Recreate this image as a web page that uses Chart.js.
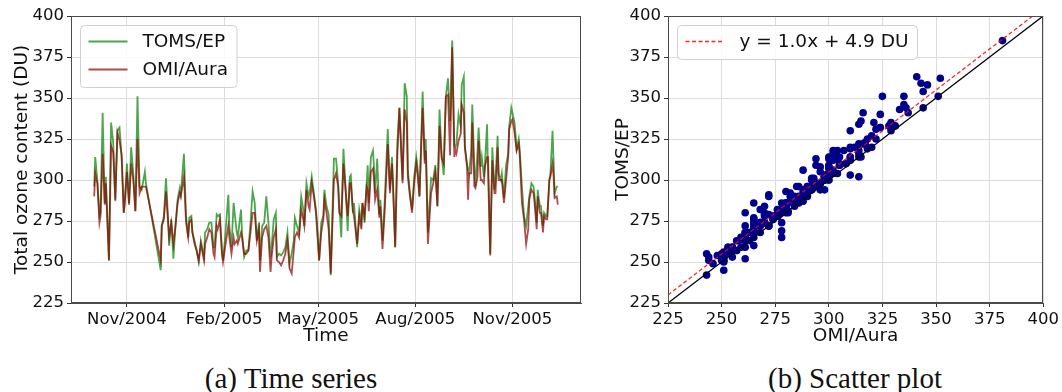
<!DOCTYPE html>
<html>
<head>
<meta charset="utf-8">
<script src="https://cdn.jsdelivr.net/npm/chart.js@4.4.1/dist/chart.umd.min.js"></script>
<style>
  html, body { margin: 0; padding: 0; background: #fff; width: 1062px; height: 392px; overflow: hidden; }
  #tsWrap { position: absolute; left: 0; top: 0; }
  #scWrap { position: absolute; left: 590px; top: 0; }
  .cap { position: absolute; top: 362px; line-height: 32px; font-family: "Liberation Serif", "Times New Roman", serif;
         font-size: 29px; color: #111; transform: translateX(-50%); white-space: nowrap; }
</style>
</head>
<body>
<div id="tsWrap"><canvas id="ts" width="600" height="351"></canvas></div>
<div id="scWrap"><canvas id="sc" width="472" height="351"></canvas></div>
<div class="cap" style="left:291px">(a) Time series</div>
<div class="cap" style="left:855px">(b) Scatter plot</div>
<script>
// Daily total ozone column over the station, days counted from 2004-10-01
const originDate = '2004-10-01';
const dayOffsets = [
  0, 1, 3, 5, 6, 8, 10, 11, 14, 16, 18, 20, 22, 24, 26, 28, 29, 31, 33, 35, 37, 39, 41, 43, 45, 48, 49,
  63, 64, 66, 68, 70, 71, 73, 75, 77, 79, 81, 82, 85, 87, 89, 90, 92, 93, 95, 97, 99, 101, 104, 105, 107, 109,
  111, 113, 114, 116, 117, 119, 121, 122, 124, 127, 128, 130, 132, 133, 135, 136, 139, 140, 142, 144, 146, 148,
  150, 152, 154, 156, 157, 159, 161, 163, 165, 167, 168, 170, 172, 173, 175, 177, 179, 181, 183, 185, 187, 189,
  190, 192, 194, 196, 198, 199, 201, 203, 204, 206, 208, 210, 211, 213, 215, 217, 218, 220,
  222, 224, 227, 229, 231, 232, 234, 236, 238, 240, 242, 243, 245, 246, 249, 251, 253, 254, 256, 258, 259, 260,
  262, 264, 265, 266, 268, 270, 271, 273, 275, 278, 280, 282, 283, 285, 287, 289, 292, 294, 296, 297, 299, 301,
  303, 305, 306, 308, 311, 313, 314, 316, 319, 321, 323, 325, 327, 329, 331,
  333, 335, 337, 339, 341, 342, 343, 345, 347, 348, 350, 351, 353, 354, 355, 357, 358, 360, 361, 363, 364, 366,
  367, 369, 370, 372, 373, 375, 377, 379, 380, 382, 383, 385, 386, 388, 390, 392, 393, 395, 396, 398, 400, 402,
  403, 405, 407, 409, 411, 412, 414, 416, 417, 419, 420, 422, 423, 425, 426, 428, 429, 431, 432, 434, 435, 436,
  438, 439
];
const tomsEP = [
  296, 314, 300, 278, 280, 341, 286, 302, 251, 335, 323, 287, 330, 332, 314, 280, 288, 310, 286, 320, 304, 281, 351, 296, 294, 305, 298,
  245, 272, 278, 301, 276, 260, 276, 252, 272, 288, 295, 291, 316, 278, 265, 277, 278, 268, 263, 257, 250, 263, 253, 268, 270, 274,
  274, 259, 259, 279, 278, 279, 257, 251, 265, 291, 272, 259, 286, 280, 268, 265, 282, 268, 253, 257, 257, 274,
  293, 286, 263, 274, 251, 272, 274, 290, 274, 253, 259, 276, 280, 253, 255, 254, 256, 259, 268, 249, 255, 263,
  277, 272, 268, 290, 282, 272, 298, 290, 292, 302, 292, 282, 274, 251, 274, 278, 294, 284,
  279, 242, 313, 313, 298, 286, 265, 319, 296, 269, 302, 303, 280, 286, 259, 282, 274, 286, 274, 298, 309, 286,
  314, 318, 307, 292, 313, 279, 288, 263, 286, 331, 294, 314, 294, 259, 322, 344, 300, 359, 351, 306, 292, 282,
  302, 314, 309, 290, 354, 312, 325, 268, 301, 300, 309, 284, 343, 314, 303,
  351, 362, 336, 385, 321, 320, 322, 340, 333, 358, 363, 320, 310, 306, 304, 318, 346, 308, 296, 318, 332, 308,
  314, 302, 310, 334, 302, 255, 320, 294, 300, 327, 304, 300, 304, 289, 309, 316, 333, 344, 341, 335, 319, 325,
  318, 296, 278, 272, 284, 290, 298, 296, 290, 274, 294, 284, 284, 272, 280, 278, 278, 300, 304, 330, 312, 292,
  296, 296
];
const omiAura = [
  290, 304, 298, 274, 278, 316, 285, 298, 251, 321, 317, 288, 329, 324, 315, 280, 286, 305, 285, 310, 300, 281, 325, 292, 296, 296, 296,
  251, 272, 276, 293, 274, 265, 274, 261, 272, 286, 292, 290, 302, 274, 265, 274, 276, 268, 261, 257, 251, 261, 251, 261, 265, 270,
  268, 255, 253, 272, 270, 276, 255, 250, 259, 272, 265, 255, 265, 261, 263, 261, 268, 265, 255, 255, 257, 268,
  280, 280, 263, 270, 244, 265, 270, 272, 265, 244, 253, 265, 270, 251, 250, 248, 251, 255, 263, 246, 243, 257,
  265, 268, 265, 282, 276, 272, 294, 284, 282, 298, 290, 280, 270, 251, 268, 276, 288, 280,
  270, 243, 300, 304, 296, 280, 278, 310, 294, 278, 298, 298, 281, 278, 261, 278, 270, 286, 278, 296, 294, 281,
  305, 307, 300, 288, 294, 277, 284, 258, 280, 322, 292, 310, 298, 259, 314, 344, 298, 343, 335, 302, 290, 280,
  298, 310, 305, 290, 344, 310, 318, 261, 292, 298, 305, 284, 333, 314, 310,
  351, 352, 315, 381, 314, 318, 316, 324, 328, 346, 341, 320, 308, 288, 304, 304, 335, 296, 295, 302, 324, 300,
  300, 298, 308, 314, 314, 254, 312, 292, 292, 320, 300, 300, 300, 286, 300, 314, 331, 336, 337, 329, 318, 322,
  314, 286, 276, 261, 270, 288, 294, 292, 286, 270, 290, 280, 280, 268, 278, 276, 276, 300, 302, 310, 302, 289,
  290, 285
];

// Month ticks of the time axis
const tickDates = ['2004-11-01', '2005-02-01', '2005-05-01', '2005-08-01', '2005-11-01'];
const tickLabels = ['Nov/2004', 'Feb/2005', 'May/2005', 'Aug/2005', 'Nov/2005'];

// Ozone axis limits (DU) and least-squares fit of TOMS/EP against OMI/Aura
const ozoneMin = 225, ozoneMax = 400, ozoneStep = 25;
const fitSlope = 1.0, fitIntercept = 4.9;

const dayNum = d => (Date.parse(d) - Date.parse(originDate)) / 86400000;
const tickDays = tickDates.map(dayNum);
const span = dayOffsets[dayOffsets.length - 1] - dayOffsets[0];
const xMin = dayOffsets[0] - 0.05 * span, xMax = dayOffsets[dayOffsets.length - 1] + 0.05 * span;

const FONT = '"DejaVu Sans", sans-serif';
const TXT = '#111';
const GRID = '#dcdcdc';
const SPINE = '#4a4a4a';

// closed frame around the plotting area
const framePlugin = {
  id: 'frame',
  afterDatasetsDraw(chart) {
    const { ctx, chartArea: a } = chart;
    ctx.save();
    ctx.strokeStyle = SPINE;
    ctx.lineWidth = 1;
    ctx.strokeRect(Math.round(a.left) + 0.5, Math.round(a.top) + 0.5,
                   Math.round(a.right - a.left) - 1, Math.round(a.bottom - a.top) - 1);
    ctx.restore();
  }
};

// legend in a rounded box at the upper-left corner of the plotting area
const boxLegend = {
  id: 'boxLegend',
  afterDraw(chart, args, opts) {
    const { ctx, chartArea } = chart;
    const items = opts.items.map(i => chart.data.datasets[i]);
    ctx.save();
    ctx.font = opts.fontSize + 'px ' + FONT;
    const textW = Math.max(...items.map(d => ctx.measureText(d.label).width));
    const x0 = Math.round(chartArea.left) + 9.5, y0 = Math.round(chartArea.top) + 9.5;
    const w = 8 + 39 + 15 + textW + 9;
    const h = 16 + 28 * (items.length - 1) + 18;
    ctx.beginPath();
    ctx.roundRect(x0, y0, w, h, 4);
    ctx.fillStyle = 'rgba(255,255,255,0.85)';
    ctx.fill();
    ctx.strokeStyle = '#d0d0d0';
    ctx.lineWidth = 1;
    ctx.stroke();
    items.forEach((d, k) => {
      const cy = y0 + 16 + 28 * k;
      ctx.beginPath();
      ctx.setLineDash(d.borderDash || []);
      ctx.strokeStyle = d.borderColor;
      ctx.lineWidth = d.borderWidth;
      ctx.moveTo(x0 + 8, cy);
      ctx.lineTo(x0 + 47, cy);
      ctx.stroke();
      ctx.setLineDash([]);
      ctx.fillStyle = TXT;
      ctx.textBaseline = 'middle';
      ctx.textAlign = 'left';
      ctx.fillText(d.label, x0 + 62, cy + 1);
    });
    ctx.restore();
  }
};

const ozoneAxis = (titleText, width) => ({
  type: 'linear', min: ozoneMin, max: ozoneMax,
  ticks: { stepSize: ozoneStep, color: TXT, font: { family: FONT, size: 16.5 }, padding: 3 },
  grid: { color: GRID, tickColor: '#333', tickLength: 4 },
  border: { color: SPINE },
  title: { display: true, text: titleText, color: TXT, font: { family: FONT, size: 18.5 }, padding: { top: 4, bottom: 4 } },
  afterFit: s => { s.width = width; }
});

Chart.defaults.animation = false;

new Chart(document.getElementById('ts'), {
  type: 'line',
  data: {
    datasets: [
      { label: 'TOMS/EP', data: dayOffsets.map((d, i) => ({ x: d, y: tomsEP[i] })),
        borderColor: 'rgba(0,128,0,0.7)', borderWidth: 1.8, pointRadius: 0, tension: 0, order: 2 },
      { label: 'OMI/Aura', data: dayOffsets.map((d, i) => ({ x: d, y: omiAura[i] })),
        borderColor: 'rgba(139,0,0,0.7)', borderWidth: 1.8, pointRadius: 0, tension: 0, order: 1 }
    ]
  },
  options: {
    responsive: false,
    events: [],
    layout: { padding: { left: 7, top: 16, right: 19, bottom: 0 } },
    scales: {
      x: {
        type: 'linear', min: xMin, max: xMax,
        afterBuildTicks: s => { s.ticks = tickDays.map(v => ({ value: v })); },
        ticks: { color: TXT, font: { family: FONT, size: 16.5 }, maxRotation: 0, autoSkip: false, padding: 3,
                 callback: v => tickLabels[tickDays.indexOf(v)] },
        grid: { color: GRID, tickColor: '#333', tickLength: 4 },
        border: { color: SPINE },
        title: { display: true, text: 'Time', color: TXT, font: { family: FONT, size: 18.5 }, padding: { top: 2, bottom: 4 } },
        afterFit: s => { s.height = 48; }
      },
      y: ozoneAxis('Total ozone content (DU)', 64)
    },
    plugins: { legend: { display: false }, tooltip: { enabled: false }, boxLegend: { items: [0, 1], fontSize: 18.5 } }
  },
  plugins: [framePlugin, boxLegend]
});

new Chart(document.getElementById('sc'), {
  type: 'scatter',
  data: {
    datasets: [
      { type: 'scatter', label: 'daily pairs', data: omiAura.map((v, i) => ({ x: v, y: tomsEP[i] })),
        backgroundColor: '#00008b', borderColor: '#00008b', pointRadius: 3.8, borderWidth: 0, order: 3 },
      { type: 'line', label: 'y = x', data: [{ x: ozoneMin, y: ozoneMin }, { x: ozoneMax, y: ozoneMax }],
        borderColor: '#000', borderWidth: 1.3, pointRadius: 0, order: 2 },
      { type: 'line', label: 'y = ' + fitSlope.toFixed(1) + 'x + ' + fitIntercept.toFixed(1) + ' DU',
        data: [{ x: ozoneMin, y: fitSlope * ozoneMin + fitIntercept }, { x: ozoneMax, y: fitSlope * ozoneMax + fitIntercept }],
        borderColor: 'rgba(255,0,0,0.85)', borderWidth: 1.3, borderDash: [4, 2.5], pointRadius: 0, order: 1 }
    ]
  },
  options: {
    responsive: false,
    events: [],
    layout: { padding: { left: 18, top: 16, right: 17, bottom: 0 } },
    scales: {
      x: Object.assign(ozoneAxis('OMI/Aura', 0), { afterFit: s => { s.height = 48; } }),
      y: ozoneAxis('TOMS/EP', 60)
    },
    plugins: { legend: { display: false }, tooltip: { enabled: false }, boxLegend: { items: [2], fontSize: 18.5 } }
  },
  plugins: [framePlugin, boxLegend]
});
</script>
</body>
</html>
